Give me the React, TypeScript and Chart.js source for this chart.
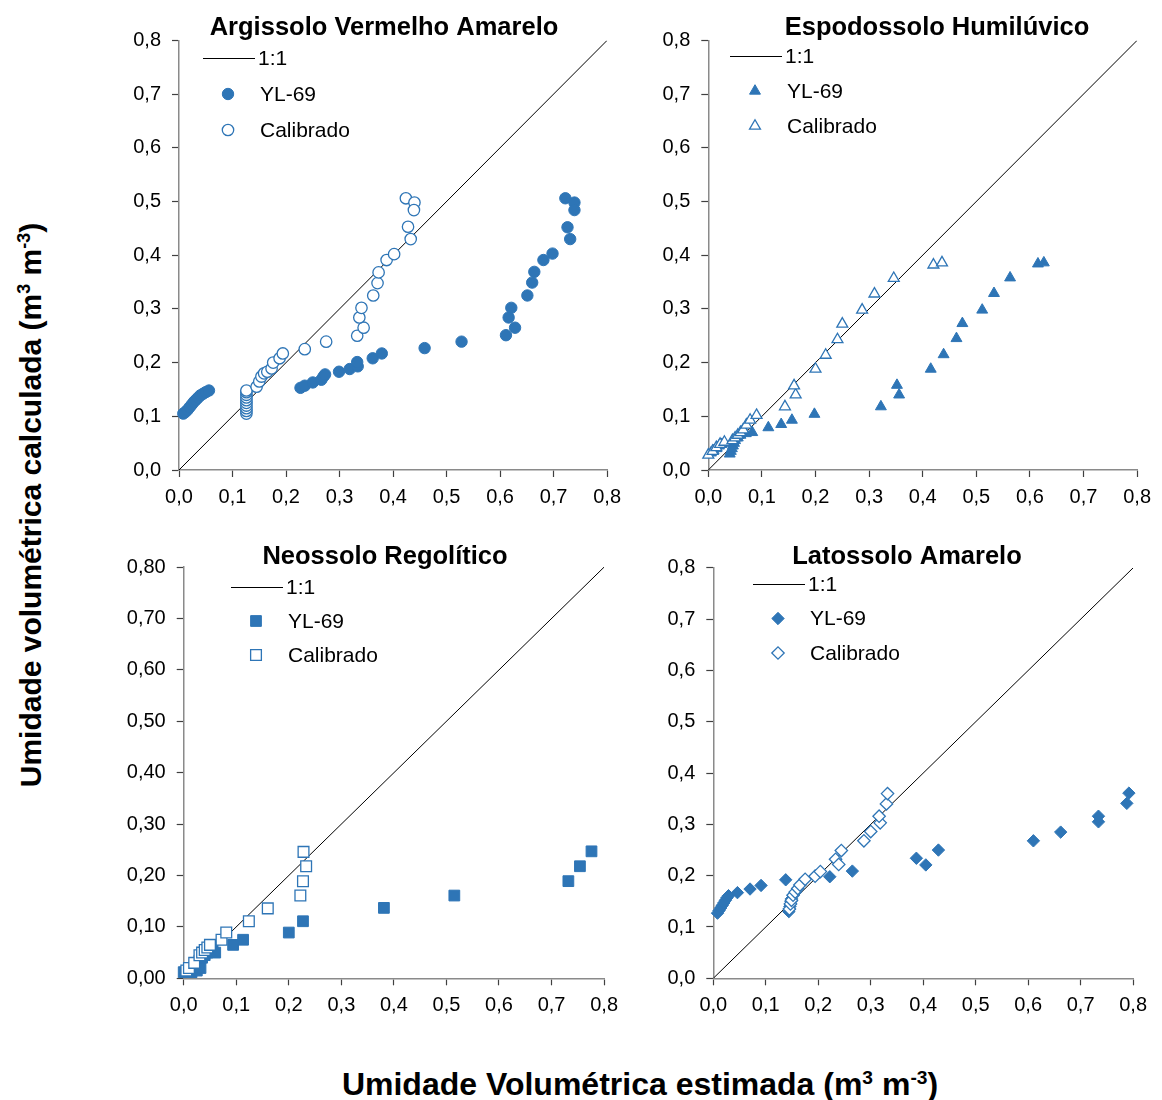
import React, { useEffect, useRef } from 'react';
import { Chart, registerables } from 'chart.js';

Chart.register(...registerables);

type Pt = [number, number];

// ---------- DATA ----------
const xTicks: number[] = [0, 0.1, 0.2, 0.3, 0.4, 0.5, 0.6, 0.7, 0.8];
const yTicks: number[] = [0, 0.1, 0.2, 0.3, 0.4, 0.5, 0.6, 0.7, 0.8];
const panelTitles: string[] = ['Argissolo Vermelho Amarelo', 'Espodossolo Humilúvico', 'Neossolo Regolítico', 'Latossolo Amarelo'];
const seriesNames: string[] = ['1:1', 'YL-69', 'Calibrado'];
const oneToOne: Pt[] = [[0, 0], [0.8, 0.8]];

const argissoloYL69: Pt[] = [
  [0.008, 0.105], [0.012, 0.108], [0.016, 0.112], [0.02, 0.117], [0.024, 0.122], [0.028, 0.127],
  [0.032, 0.131], [0.036, 0.135], [0.04, 0.139], [0.045, 0.142], [0.05, 0.145], [0.056, 0.148],
  [0.227, 0.153], [0.235, 0.157], [0.25, 0.163], [0.266, 0.168], [0.27, 0.174], [0.273, 0.178],
  [0.299, 0.183], [0.319, 0.188], [0.334, 0.193], [0.333, 0.201], [0.362, 0.208], [0.379, 0.217],
  [0.459, 0.227], [0.528, 0.239], [0.611, 0.251], [0.628, 0.265], [0.616, 0.284], [0.621, 0.302],
  [0.651, 0.325], [0.66, 0.349], [0.664, 0.369], [0.681, 0.391], [0.698, 0.403], [0.731, 0.43],
  [0.726, 0.452], [0.722, 0.506], [0.739, 0.498], [0.739, 0.484],
];
const argissoloCal: Pt[] = [
  [0.126, 0.105], [0.126, 0.11], [0.126, 0.115], [0.126, 0.12], [0.126, 0.125], [0.126, 0.13],
  [0.126, 0.135], [0.126, 0.14], [0.126, 0.145], [0.126, 0.148], [0.145, 0.155], [0.15, 0.165],
  [0.154, 0.174], [0.159, 0.18], [0.165, 0.183], [0.173, 0.189], [0.176, 0.2], [0.188, 0.208],
  [0.194, 0.217], [0.235, 0.225], [0.275, 0.239], [0.333, 0.25], [0.345, 0.265], [0.337, 0.284],
  [0.341, 0.302], [0.363, 0.325], [0.371, 0.348], [0.373, 0.368], [0.388, 0.391], [0.402, 0.402],
  [0.433, 0.43], [0.428, 0.453], [0.424, 0.506], [0.44, 0.498], [0.439, 0.484],
];

const espodossoloYL69: Pt[] = [
  [0.005, 0.032], [0.01, 0.036], [0.015, 0.04], [0.02, 0.045], [0.025, 0.048], [0.03, 0.05],
  [0.04, 0.03], [0.042, 0.035], [0.044, 0.04], [0.046, 0.045], [0.048, 0.05], [0.05, 0.055],
  [0.055, 0.06], [0.06, 0.065], [0.065, 0.07], [0.07, 0.068], [0.082, 0.07], [0.112, 0.079],
  [0.136, 0.085], [0.156, 0.093], [0.198, 0.104], [0.322, 0.118], [0.352, 0.158], [0.356, 0.14],
  [0.415, 0.188], [0.439, 0.215], [0.463, 0.245], [0.474, 0.273], [0.511, 0.298], [0.533, 0.329],
  [0.563, 0.358], [0.615, 0.384], [0.626, 0.386],
];
const espodossoloCal: Pt[] = [
  [0.0, 0.028], [0.008, 0.035], [0.015, 0.042], [0.022, 0.048], [0.03, 0.052], [0.045, 0.055],
  [0.05, 0.06], [0.055, 0.065], [0.06, 0.07], [0.065, 0.075], [0.071, 0.084], [0.078, 0.093],
  [0.09, 0.102], [0.143, 0.118], [0.163, 0.14], [0.16, 0.157], [0.2, 0.188], [0.219, 0.214],
  [0.241, 0.243], [0.25, 0.272], [0.287, 0.298], [0.31, 0.328], [0.346, 0.357], [0.42, 0.382],
  [0.436, 0.386],
];

const neossoloYL69: Pt[] = [
  [0.0, 0.012], [0.005, 0.012], [0.01, 0.015], [0.012, 0.02], [0.015, 0.012], [0.02, 0.018],
  [0.022, 0.025], [0.025, 0.015], [0.028, 0.03], [0.03, 0.035], [0.032, 0.02], [0.035, 0.04],
  [0.04, 0.045], [0.045, 0.05], [0.05, 0.055], [0.055, 0.06], [0.06, 0.05], [0.094, 0.065],
  [0.113, 0.075], [0.2, 0.089], [0.227, 0.111], [0.381, 0.137], [0.515, 0.161], [0.732, 0.189],
  [0.754, 0.218], [0.776, 0.247],
];
const neossoloCal: Pt[] = [
  [0.005, 0.015], [0.01, 0.02], [0.02, 0.03], [0.03, 0.045], [0.035, 0.05], [0.04, 0.055],
  [0.045, 0.06], [0.05, 0.065], [0.072, 0.075], [0.081, 0.089], [0.124, 0.111], [0.16, 0.136],
  [0.222, 0.161], [0.227, 0.189], [0.233, 0.218], [0.228, 0.246],
];

const latossoloYL69: Pt[] = [
  [0.008, 0.127], [0.011, 0.132], [0.014, 0.137], [0.017, 0.142], [0.02, 0.147], [0.023, 0.152],
  [0.026, 0.157], [0.029, 0.161], [0.046, 0.167], [0.07, 0.174], [0.091, 0.181], [0.138, 0.192],
  [0.144, 0.13], [0.145, 0.135], [0.146, 0.14], [0.147, 0.145], [0.148, 0.15], [0.149, 0.155],
  [0.222, 0.198], [0.265, 0.209], [0.387, 0.234], [0.405, 0.221], [0.429, 0.25], [0.61, 0.268],
  [0.662, 0.285], [0.734, 0.305], [0.734, 0.316], [0.788, 0.341], [0.792, 0.361],
];
const latossoloCal: Pt[] = [
  [0.145, 0.135], [0.147, 0.145], [0.149, 0.152], [0.152, 0.162], [0.156, 0.168], [0.161, 0.175],
  [0.165, 0.182], [0.175, 0.193], [0.194, 0.199], [0.204, 0.208], [0.233, 0.232], [0.239, 0.222],
  [0.244, 0.249], [0.287, 0.268], [0.3, 0.286], [0.318, 0.303], [0.316, 0.316], [0.33, 0.34],
  [0.332, 0.36],
];

// ---------- STYLE / LAYOUT ----------
const BLUE = '#2E75B6';
const FONT = '"Liberation Sans", Arial, Helvetica, sans-serif';

interface PanelCfg {
  title: string;
  yl69: Pt[];
  cal: Pt[];
  marker: 'circle' | 'triangle' | 'rect' | 'rectRot';
  radius: number;
  yDecimals: number;
  plotLeft: number; plotRight: number; plotTop: number; plotBottom: number;
  titleX: number; titleY: number;
  legX: number; legY: number; legGap: number;
}

const panels: PanelCfg[] = [
  { title: panelTitles[0], yl69: argissoloYL69, cal: argissoloCal, marker: 'circle', radius: 5.7, yDecimals: 1,
    plotLeft: 179, plotRight: 609, plotTop: 40.4, plotBottom: 470, titleX: 384, titleY: 27, legX: 203, legY: 58, legGap: 36 },
  { title: panelTitles[1], yl69: espodossoloYL69, cal: espodossoloCal, marker: 'triangle', radius: 6.3, yDecimals: 1,
    plotLeft: 708.3, plotRight: 1138.3, plotTop: 40.4, plotBottom: 470, titleX: 937, titleY: 27, legX: 730, legY: 56, legGap: 35 },
  { title: panelTitles[2], yl69: neossoloYL69, cal: neossoloCal, marker: 'rect', radius: 7.6, yDecimals: 2,
    plotLeft: 183.7, plotRight: 606, plotTop: 567.1, plotBottom: 978.3, titleX: 385, titleY: 556, legX: 231, legY: 587, legGap: 34 },
  { title: panelTitles[3], yl69: latossoloYL69, cal: latossoloCal, marker: 'rectRot', radius: 6.2, yDecimals: 1,
    plotLeft: 713.3, plotRight: 1135, plotTop: 567.9, plotBottom: 978.3, titleX: 907, titleY: 556, legX: 753, legY: 584, legGap: 34.5 },
];

function toXY(a: Pt[]) {
  return a.map(([x, y]) => ({ x, y }));
}

function fmt(v: number, d: number) {
  return v.toFixed(d).replace('.', ',');
}

function drawMarker(ctx: CanvasRenderingContext2D, style: string, x: number, y: number, r: number, filled: boolean) {
  ctx.save();
  ctx.beginPath();
  if (style === 'circle') {
    ctx.arc(x, y, r, 0, Math.PI * 2);
  } else if (style === 'triangle') {
    for (let i = 0; i < 3; i++) {
      const a = (i * 2 * Math.PI) / 3;
      const px = x + Math.sin(a) * r;
      const py = y - Math.cos(a) * r;
      if (i === 0) ctx.moveTo(px, py); else ctx.lineTo(px, py);
    }
    ctx.closePath();
  } else if (style === 'rect') {
    const s = r * Math.SQRT1_2;
    ctx.rect(x - s, y - s, 2 * s, 2 * s);
  } else {
    ctx.moveTo(x - r, y);
    ctx.lineTo(x, y - r);
    ctx.lineTo(x + r, y);
    ctx.lineTo(x, y + r);
    ctx.closePath();
  }
  ctx.fillStyle = filled ? BLUE : '#ffffff';
  ctx.fill();
  ctx.lineWidth = filled ? 1 : 1.3;
  ctx.strokeStyle = BLUE;
  ctx.stroke();
  ctx.restore();
}

function Panel({ cfg }: { cfg: PanelCfg }) {
  const ref = useRef<HTMLCanvasElement>(null);
  const left = Math.floor(cfg.plotLeft - 80);
  const top = Math.floor(cfg.plotTop - 42);
  const width = Math.min(1160 - left, Math.ceil(cfg.plotRight + 20 - left));
  const height = Math.ceil(cfg.plotBottom + 50 - top);
  const yAxisW = cfg.plotLeft - left;
  const padTop = cfg.plotTop - top;
  const padRight = width - (cfg.plotRight - left);
  const xAxisH = 40;
  const padBottom = height - (cfg.plotBottom - top) - xAxisH;

  useEffect(() => {
    if (!ref.current) return;
    const deco = {
      id: 'deco' + cfg.title,
      afterDraw(chart: any) {
        const ctx: CanvasRenderingContext2D = chart.ctx;
        ctx.save();
        // title
        ctx.fillStyle = '#000';
        ctx.font = `bold 25.5px ${FONT}`;
        ctx.textAlign = 'center';
        ctx.textBaseline = 'middle';
        ctx.fillText(cfg.title, cfg.titleX - left, cfg.titleY + 1 - top);
        // legend
        const lx = cfg.legX - left;
        const ly = cfg.legY - top;
        ctx.strokeStyle = '#000';
        ctx.lineWidth = 1;
        ctx.beginPath();
        ctx.moveTo(lx, ly + 0.5);
        ctx.lineTo(lx + 52, ly + 0.5);
        ctx.stroke();
        ctx.font = `21px ${FONT}`;
        ctx.textAlign = 'left';
        ctx.fillText(seriesNames[0], lx + 55, ly + 1);
        drawMarker(ctx, cfg.marker, lx + 25, ly + cfg.legGap, cfg.radius, true);
        ctx.fillText(seriesNames[1], lx + 57, ly + cfg.legGap + 1);
        drawMarker(ctx, cfg.marker, lx + 25, ly + 2 * cfg.legGap, cfg.radius, false);
        ctx.fillText(seriesNames[2], lx + 57, ly + 2 * cfg.legGap + 1);
        ctx.restore();
      },
    };

    const tickFont = { family: FONT, size: 20 };
    const chart = new Chart(ref.current, {
      type: 'scatter',
      data: {
        datasets: [
          {
            label: seriesNames[0],
            data: toXY(oneToOne),
            showLine: true,
            borderColor: '#000',
            borderWidth: 1,
            pointRadius: 0,
            pointHoverRadius: 0,
            order: 3,
          } as any,
          {
            label: seriesNames[1],
            data: toXY(cfg.yl69),
            pointStyle: cfg.marker,
            pointRadius: cfg.radius,
            pointHoverRadius: cfg.radius,
            backgroundColor: BLUE,
            borderColor: BLUE,
            borderWidth: 1,
            clip: false,
            order: 2,
          } as any,
          {
            label: seriesNames[2],
            data: toXY(cfg.cal),
            pointStyle: cfg.marker,
            pointRadius: cfg.radius,
            pointHoverRadius: cfg.radius,
            backgroundColor: '#ffffff',
            borderColor: BLUE,
            borderWidth: 1.3,
            clip: false,
            order: 1,
          } as any,
        ],
      },
      options: {
        responsive: false,
        animation: false,
        devicePixelRatio: 1,
        layout: { padding: { left: 0, top: padTop, right: padRight, bottom: padBottom } },
        plugins: { legend: { display: false }, tooltip: { enabled: false }, title: { display: false } },
        events: [],
        scales: {
          x: {
            type: 'linear',
            min: xTicks[0],
            max: xTicks[xTicks.length - 1],
            afterBuildTicks: (s: any) => { s.ticks = xTicks.map((v) => ({ value: v })); },
            afterFit: (s: any) => { s.height = xAxisH; },
            ticks: { font: tickFont, color: '#000', padding: 8, maxRotation: 0, autoSkip: false,
              callback: (v: any) => fmt(Number(v), 1) },
            grid: { drawOnChartArea: false, drawTicks: true, tickLength: 7, tickColor: '#404040', tickWidth: 1.2 },
            border: { color: '#8a8a8a', width: 1.5 },
          },
          y: {
            type: 'linear',
            min: yTicks[0],
            max: yTicks[yTicks.length - 1],
            afterBuildTicks: (s: any) => { s.ticks = yTicks.map((v) => ({ value: v })); },
            afterFit: (s: any) => { s.width = yAxisW; },
            ticks: { font: tickFont, color: '#000', padding: 11, autoSkip: false,
              callback: (v: any) => fmt(Number(v), cfg.yDecimals) },
            grid: { drawOnChartArea: false, drawTicks: true, tickLength: 7, tickColor: '#404040', tickWidth: 1.2 },
            border: { color: '#8a8a8a', width: 1.5 },
          },
        },
      } as any,
      plugins: [deco],
    });
    return () => chart.destroy();
  }, []);

  return (
    <canvas
      ref={ref}
      width={width}
      height={height}
      style={{ position: 'absolute', left, top, width, height }}
    />
  );
}

export default function App() {
  return (
    <div style={{ position: 'absolute', left: 0, top: 0, width: 1162, height: 1100, background: '#fff', overflow: 'hidden', fontFamily: FONT }}>
      {panels.map((p) => (
        <Panel key={p.title} cfg={p} />
      ))}
      <div
        style={{
          position: 'absolute', left: 30, top: 505, transform: 'translate(-50%, -50%) rotate(-90deg)',
          whiteSpace: 'nowrap', fontWeight: 'bold', fontSize: 30, color: '#000', lineHeight: 1,
        }}
      >
        Umidade volumétrica calculada (m<sup style={{ fontSize: '0.6em' }}>3</sup> m<sup style={{ fontSize: '0.6em' }}>-3</sup>)
      </div>
      <div
        style={{
          position: 'absolute', left: 640, top: 1084, transform: 'translate(-50%, -50%)',
          whiteSpace: 'nowrap', fontWeight: 'bold', fontSize: 32, color: '#000', lineHeight: 1,
        }}
      >
        Umidade Volumétrica estimada (m<sup style={{ fontSize: '0.6em' }}>3</sup> m<sup style={{ fontSize: '0.6em' }}>-3</sup>)
      </div>
    </div>
  );
}
